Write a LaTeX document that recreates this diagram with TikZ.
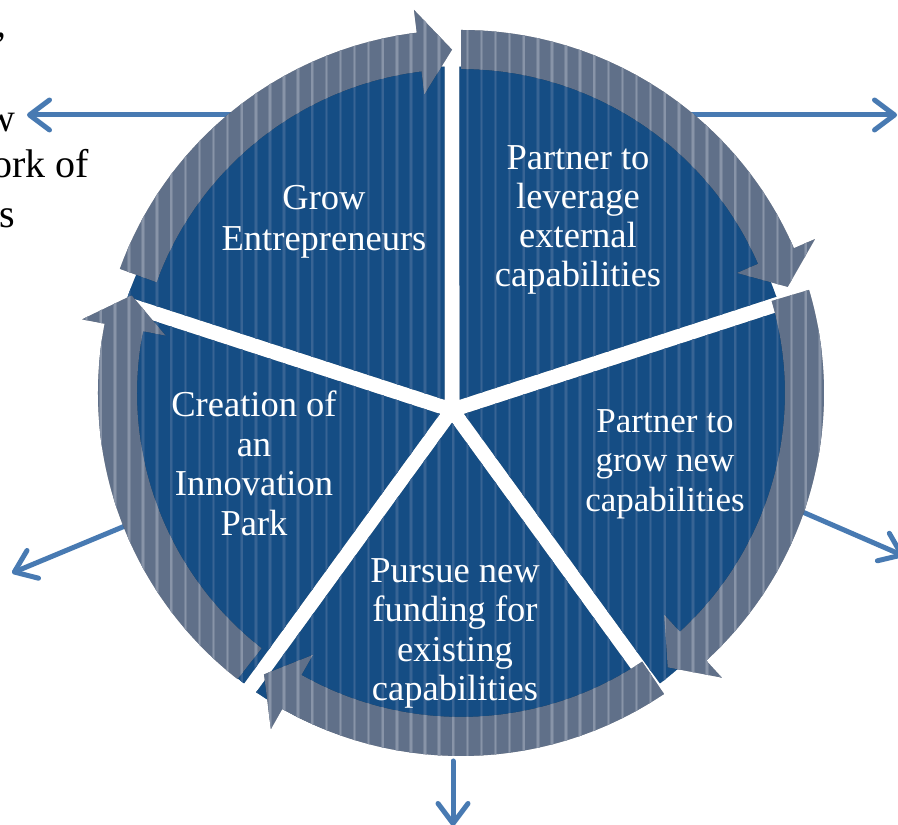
\documentclass[tikz,border=0pt]{standalone}
\usepackage{fontspec}
\setmainfont{Liberation Serif}
\usetikzlibrary{calc,arrows.meta}
\definecolor{pieblue}{RGB}{21,77,132}
\definecolor{piestripe}{RGB}{56,100,148}
\definecolor{piestripesoft}{RGB}{38,88,140}
\definecolor{ringgray}{RGB}{96,112,137}
\definecolor{ringstripe}{RGB}{136,148,168}
\definecolor{ringstripesoft}{RGB}{116,130,152}
\definecolor{outblue}{RGB}{72,122,178}
\newcommand\Rout{363}
\newcommand\Rin{324}
\newcommand\Rmid{343.5}
\newcommand\Rwo{386}
\newcommand\Rwi{301}
\newcommand\Hd{5.5}
\newcommand\Rpie{343.5}
\newcommand\Apx{12.76}
\newcommand\Dl{1.25}
\newcommand\ringpath[2]{($(O)+(#1:\Rout)$) arc[start angle=#1, end angle={#2+\Hd}, radius=\Rout] -- ($(O)+({#2+\Hd}:\Rwo)$) -- ($(O)+(#2:\Rmid)$) -- ($(O)+({#2+\Hd}:\Rwi)$) -- ($(O)+({#2+\Hd}:\Rin)$) arc[start angle={#2+\Hd}, end angle=#1, radius=\Rin] -- cycle}
\newcommand\sectorpath[1]{($(P)+({#1+36}:\Apx)$) -- ($(P)+({#1+\Dl}:\Rpie)$) arc[start angle={#1+\Dl}, end angle={#1+72-\Dl}, radius=\Rpie] -- cycle}
\newcommand\allsectors{\sectorpath{18} \sectorpath{90} \sectorpath{162} \sectorpath{234} \sectorpath{306}}
\newcommand\allarcs{\ringpath{160}{91.5} \ringpath{90}{18} \ringpath{16.5}{-53} \ringpath{-56}{-125} \ringpath{232}{163.5}}
\begin{document}
\begin{tikzpicture}[x=1pt,y=1pt,
  lbl/.style={text=white, font=\fontsize{36.5}{39.5}\selectfont, inner sep=0pt, anchor=base},
  lblsm/.style={lbl, font=\fontsize{35}{39.5}\selectfont},
  side/.style={text=black, font=\fontsize{40}{48}\selectfont, inner sep=0pt, anchor=base east},
  outarrow/.style={draw=outblue, line width=5pt, line cap=round, -{Straight Barb[length=20pt,width=30pt,round]}}]
\useasboundingbox (0,0) rectangle (898,825);
\fill[white] (0,0) rectangle (898,825);
\coordinate (O) at (461,432);
\coordinate (P) at (452,415);
% partly hidden side text
\node[side] (s1) at (8,765) {’};
\node[side] (s2) at (16,693) {w};
\node[side] (s3) at (89,647) {ork of};
\node[side] (s4) at (15,597) {s};
% outward arrows
\coordinate (a1s) at (236,710); \coordinate (a1e) at (27,710);
\coordinate (a2s) at (686,710); \coordinate (a2e) at (897,710);
\coordinate (a3s) at (798,315); \coordinate (a3e) at (904,269);
\coordinate (a4s) at (453,64);  \coordinate (a4e) at (453,-1);
\coordinate (a5s) at (125,299); \coordinate (a5e) at (12,252);
\draw[outarrow] (a1s) -- (a1e);
\draw[outarrow] (a2s) -- (a2e);
\draw[outarrow] (a3s) -- (a3e);
\draw[outarrow] (a4s) -- (a4e);
\draw[outarrow] (a5s) -- (a5e);
% pie shadow
\foreach \s/\o in {1.5/0.12,3/0.10,4.5/0.07,6/0.04}{
  \fill[black, opacity=\o, shift={(\s,-\s)}] \allsectors;
}
\fill[pieblue] \allsectors;
\begin{scope}
  \clip \allsectors;
  \foreach \i in {0,...,63}{
    \fill[piestripesoft] ({0.3+14.1*\i},0) rectangle ({3.7+14.1*\i},825);
    \fill[piestripe] ({1.2+14.1*\i},0) rectangle ({2.8+14.1*\i},825);
  }
\end{scope}
% ring shadow
\foreach \s/\o in {1.5/0.12,3/0.10,4.5/0.08,6/0.05}{
  \fill[black, opacity=\o, shift={(\s,-\s)}] \allarcs;
}
\fill[ringgray] \allarcs;
\begin{scope}
  \clip \allarcs;
  \foreach \i in {0,...,63}{
    \fill[ringstripesoft] ({0.3+14.1*\i},0) rectangle ({3.7+14.1*\i},825);
    \fill[ringstripe] ({1.2+14.1*\i},0) rectangle ({2.8+14.1*\i},825);
  }
\end{scope}
% labels
\node[lbl] (g1) at (324,615) {Grow};
\node[lbl] (g2) at (324,574.5) {Entrepreneurs};
\node[lbl] (l1) at (578,655) {Partner to};
\node[lbl] (l2) at (578,616) {leverage};
\node[lbl] (l3) at (578,577) {external};
\node[lbl] (l4) at (578,538) {capabilities};
\node[lblsm] (n1) at (665,392) {Partner to};
\node[lblsm] (n2) at (665,353) {grow new};
\node[lblsm] (n3) at (665,313) {capabilities};
\node[lbl] (f1) at (455,242.5) {Pursue new};
\node[lbl] (f2) at (455,203) {funding for};
\node[lbl] (f3) at (455,163.5) {existing};
\node[lbl] (f4) at (455,124) {capabilities};
\node[lbl] (c1) at (254,408) {Creation of};
\node[lbl] (c2) at (254,368.5) {an};
\node[lbl] (c3) at (254,329) {Innovation};
\node[lbl] (c4) at (254,289.5) {Park};
\end{tikzpicture}
\end{document}
